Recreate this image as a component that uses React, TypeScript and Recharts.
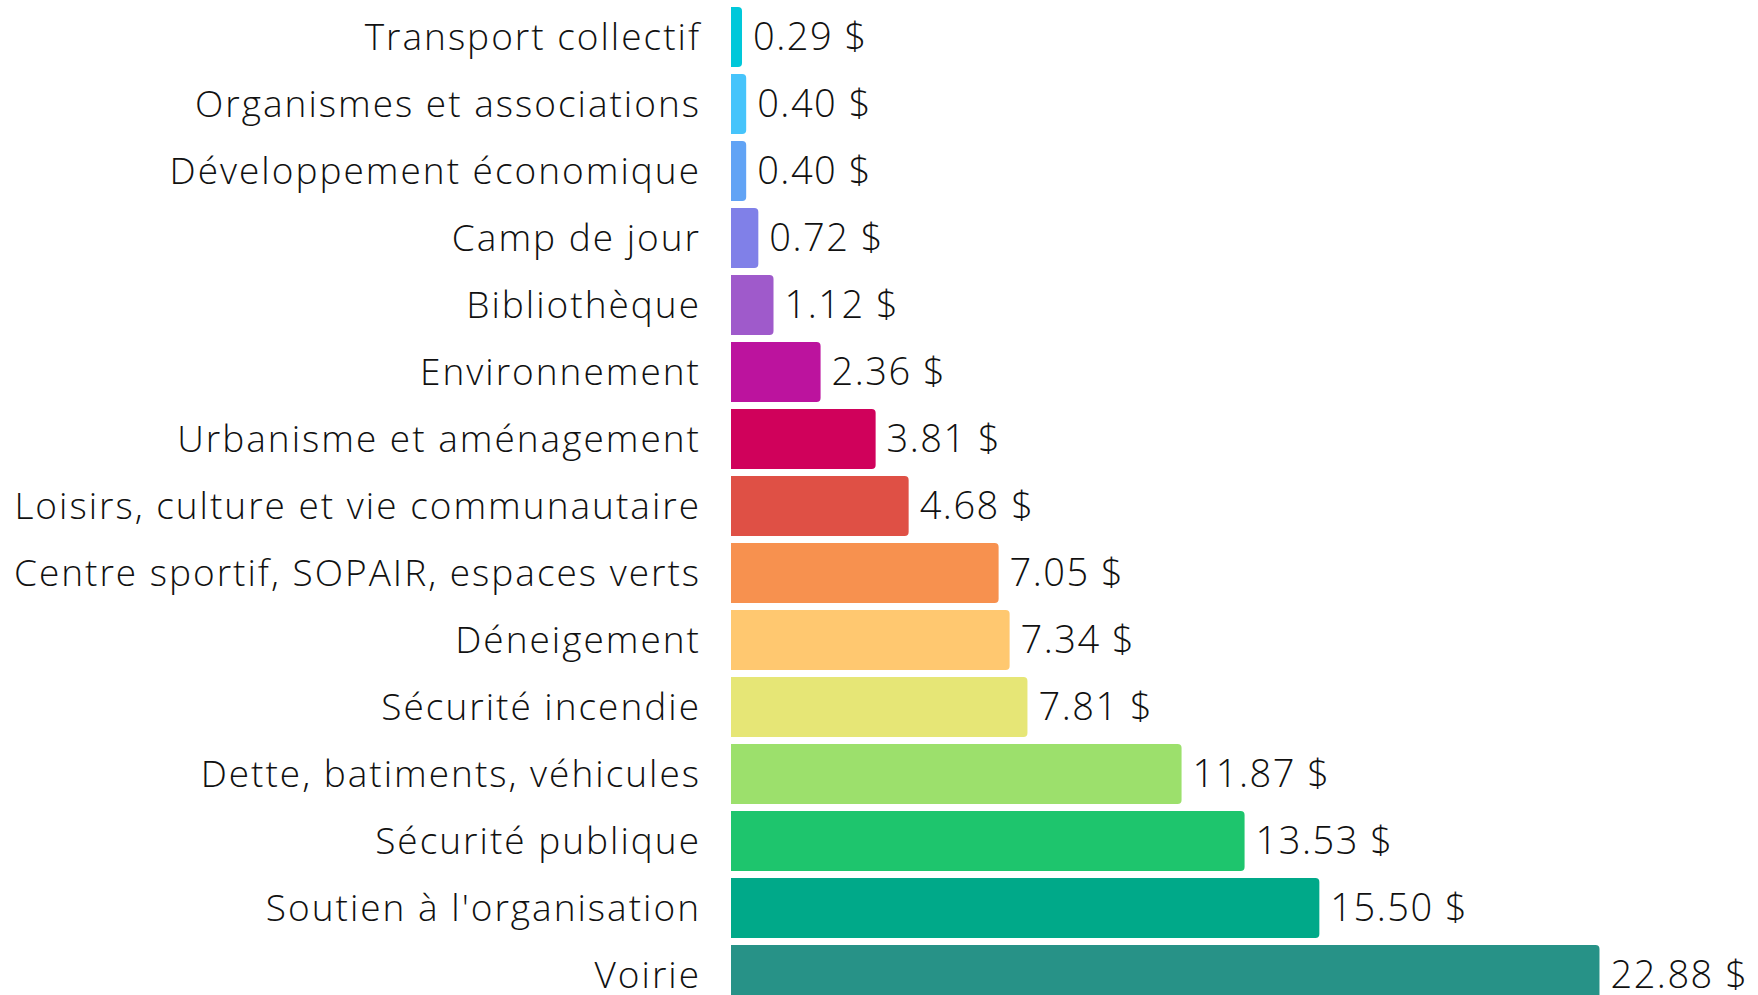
import { BarChart, Bar, XAxis, YAxis, Cell, LabelList } from 'recharts'

const categories = [
  'Transport collectif',
  'Organismes et associations',
  'Développement économique',
  'Camp de jour',
  'Bibliothèque',
  'Environnement',
  'Urbanisme et aménagement',
  'Loisirs, culture et vie communautaire',
  'Centre sportif, SOPAIR, espaces verts',
  'Déneigement',
  'Sécurité incendie',
  'Dette, batiments, véhicules',
  'Sécurité publique',
  "Soutien à l'organisation",
  'Voirie',
]

const amounts = [0.29, 0.4, 0.4, 0.72, 1.12, 2.36, 3.81, 4.68, 7.05, 7.34, 7.81, 11.87, 13.53, 15.5, 22.88]

const colors = [
  '#00c8da', '#46c4fb', '#61a3f5', '#8080e8', '#9f5acb', '#bc139e', '#d0015b', '#df5045',
  '#f7914f', '#ffc870', '#e6e676', '#9ce06c', '#1ec56d', '#00a989', '#279287',
]

const data = categories.map((name, i) => ({ name, value: amounts[i] }))

const FONT = '"Open Sans", Lato, sans-serif'

export default function App() {
  return (
    <div style={{ position: 'absolute', left: 0, top: 0, width: 1758, height: 995, overflow: 'hidden', background: '#fff' }}>
      <BarChart
        width={1758}
        height={1010}
        data={data}
        layout="vertical"
        margin={{ top: 3, right: 116, left: 0, bottom: 2 }}
      >
        <XAxis type="number" domain={[0, 24]} hide />
        <YAxis
          type="category"
          dataKey="name"
          width={731}
          axisLine={false}
          tickLine={false}
          tickMargin={24}
          interval={0}
          tick={{ fill: '#111', fontSize: 37, fontFamily: FONT, fontWeight: 300, letterSpacing: 2 }}
        />
        <Bar dataKey="value" barSize={60} radius={[0, 4, 4, 0]} isAnimationActive={false}>
          {data.map((d, i) => (
            <Cell key={d.name} fill={colors[i]} />
          ))}
          <LabelList
            dataKey="value"
            position="right"
            offset={11}
            formatter={(v: number) => `${v.toFixed(2)} $`}
            style={{ fill: '#111', fontSize: 38, fontFamily: FONT, fontWeight: 300, letterSpacing: 1.5 }}
          />
        </Bar>
      </BarChart>
    </div>
  )
}
